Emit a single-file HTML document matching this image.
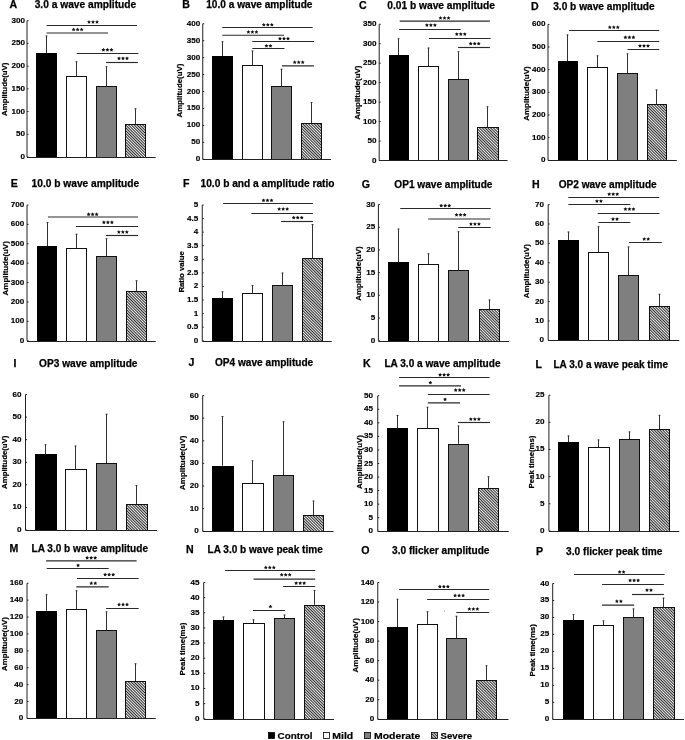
<!DOCTYPE html>
<html><head><meta charset="utf-8"><title>ERG figure</title><style>
html,body{margin:0;padding:0;background:#fff;}
body{width:685px;height:740px;overflow:hidden;}
svg{display:block;will-change:transform;}
text{font-family:"Liberation Sans",sans-serif;font-weight:bold;fill:#000;}
.t{font-size:10.2px;stroke:#000;stroke-width:0.25px;}
.lt{font-size:10.6px;stroke:#000;stroke-width:0.25px;}
.k{font-size:8.1px;fill:#000;stroke:#000;stroke-width:0.15px;}
.y{font-size:7.5px;stroke:#000;stroke-width:0.2px;}
.s{font-size:10px;fill:#222;}
.l{font-size:9.7px;stroke:#000;stroke-width:0.2px;}
</style></head>
<body>
<svg width="685" height="740" viewBox="0 0 685 740">
<defs><pattern id="h" patternUnits="userSpaceOnUse" width="2" height="2" patternTransform="rotate(-45)"><rect width="2" height="2" fill="#f2f2f2"/><rect width="0.95" height="2" fill="#1e1e1e"/></pattern><polygon id="st" points="0.00,-1.82 0.62,-0.63 1.97,-0.42 1.00,0.52 1.22,1.84 0.00,1.23 -1.22,1.84 -1.00,0.52 -1.97,-0.42 -0.62,-0.63" fill="#111"/></defs>
<rect width="685" height="740" fill="#fff"/>
<text x="13.3" y="7.9" class="lt" text-anchor="middle">A</text>
<text x="34.7" y="7.9" class="t" textLength="101.55" lengthAdjust="spacingAndGlyphs">3.0 a wave amplitude</text>
<line x1="45" y1="36" x2="48" y2="36" stroke="#aaa" stroke-width="1"/>
<line x1="46.5" y1="35.5" x2="46.5" y2="53.25" stroke="#333" stroke-width="1.0"/>
<rect x="36.5" y="53.5" width="20" height="104" fill="#000" stroke="#000" stroke-width="1.0"/>
<line x1="75" y1="61.75" x2="78" y2="61.75" stroke="#aaa" stroke-width="1"/>
<line x1="76.5" y1="61.25" x2="76.5" y2="76" stroke="#333" stroke-width="1.0"/>
<rect x="66.5" y="76.5" width="20" height="81" fill="#fff" stroke="#111" stroke-width="1.0"/>
<line x1="105" y1="66.75" x2="108" y2="66.75" stroke="#aaa" stroke-width="1"/>
<line x1="106.5" y1="66.25" x2="106.5" y2="86.5" stroke="#333" stroke-width="1.0"/>
<rect x="96.5" y="86.5" width="20" height="71" fill="#7f7f7f" stroke="#111" stroke-width="1.0"/>
<line x1="134" y1="108.75" x2="137" y2="108.75" stroke="#aaa" stroke-width="1"/>
<line x1="135.5" y1="108.25" x2="135.5" y2="124.2" stroke="#333" stroke-width="1.0"/>
<rect x="125.5" y="124.5" width="20" height="33" fill="url(#h)" stroke="#111" stroke-width="1.0"/>
<line x1="27" y1="20.7" x2="27" y2="157" stroke="#222" stroke-width="1.0"/>
<line x1="27" y1="157.5" x2="155.7" y2="157.5" stroke="#222" stroke-width="1.1"/>
<line x1="27" y1="157" x2="28.5" y2="157" stroke="#222" stroke-width="1"/>
<text x="24.9" y="159" class="k" text-anchor="end">0</text>
<line x1="27" y1="134.28" x2="28.5" y2="134.28" stroke="#222" stroke-width="1"/>
<text x="24.9" y="136.28" class="k" text-anchor="end">50</text>
<line x1="27" y1="111.57" x2="28.5" y2="111.57" stroke="#222" stroke-width="1"/>
<text x="24.9" y="113.57" class="k" text-anchor="end">100</text>
<line x1="27" y1="88.85" x2="28.5" y2="88.85" stroke="#222" stroke-width="1"/>
<text x="24.9" y="90.85" class="k" text-anchor="end">150</text>
<line x1="27" y1="66.13" x2="28.5" y2="66.13" stroke="#222" stroke-width="1"/>
<text x="24.9" y="68.13" class="k" text-anchor="end">200</text>
<line x1="27" y1="43.42" x2="28.5" y2="43.42" stroke="#222" stroke-width="1"/>
<text x="24.9" y="45.42" class="k" text-anchor="end">250</text>
<line x1="27" y1="20.7" x2="28.5" y2="20.7" stroke="#222" stroke-width="1"/>
<text x="24.9" y="22.7" class="k" text-anchor="end">300</text>
<line x1="46.5" y1="25.5" x2="137" y2="25.5" stroke="#2a2a2a" stroke-width="1.15"/>
<use href="#st" x="89" y="21.8"/>
<use href="#st" x="93" y="21.8"/>
<use href="#st" x="97" y="21.8"/>
<line x1="46.5" y1="33" x2="108" y2="33" stroke="#2a2a2a" stroke-width="1.15"/>
<use href="#st" x="73.6" y="29.35"/>
<use href="#st" x="77.6" y="29.35"/>
<use href="#st" x="81.6" y="29.35"/>
<line x1="76.75" y1="53.5" x2="138.4" y2="53.5" stroke="#2a2a2a" stroke-width="1.15"/>
<use href="#st" x="103.4" y="49.65"/>
<use href="#st" x="107.4" y="49.65"/>
<use href="#st" x="111.4" y="49.65"/>
<line x1="106.1" y1="62.5" x2="137.9" y2="62.5" stroke="#2a2a2a" stroke-width="1.15"/>
<use href="#st" x="119" y="58.25"/>
<use href="#st" x="123" y="58.25"/>
<use href="#st" x="127" y="58.25"/>
<text class="y" x="0" y="0" textLength="53.3" lengthAdjust="spacingAndGlyphs" transform="translate(7.1,115.9) rotate(-90)">Amplitude(uV)</text>
<text x="186" y="8" class="lt" text-anchor="middle">B</text>
<text x="206.2" y="8" class="t" textLength="106.3" lengthAdjust="spacingAndGlyphs">10.0 a wave amplitude</text>
<line x1="221" y1="41.75" x2="224" y2="41.75" stroke="#aaa" stroke-width="1"/>
<line x1="222.5" y1="41.25" x2="222.5" y2="56" stroke="#333" stroke-width="1.0"/>
<rect x="212.5" y="56.5" width="20" height="103" fill="#000" stroke="#000" stroke-width="1.0"/>
<line x1="251" y1="51" x2="254" y2="51" stroke="#aaa" stroke-width="1"/>
<line x1="252.5" y1="50.5" x2="252.5" y2="65.5" stroke="#333" stroke-width="1.0"/>
<rect x="242.5" y="65.5" width="20" height="94" fill="#fff" stroke="#111" stroke-width="1.0"/>
<line x1="280" y1="69.25" x2="283" y2="69.25" stroke="#aaa" stroke-width="1"/>
<line x1="281.5" y1="68.75" x2="281.5" y2="86" stroke="#333" stroke-width="1.0"/>
<rect x="271.5" y="86.5" width="20" height="73" fill="#7f7f7f" stroke="#111" stroke-width="1.0"/>
<line x1="310" y1="102.5" x2="313" y2="102.5" stroke="#aaa" stroke-width="1"/>
<line x1="311.5" y1="102" x2="311.5" y2="123" stroke="#333" stroke-width="1.0"/>
<rect x="301.5" y="123.5" width="20" height="36" fill="url(#h)" stroke="#111" stroke-width="1.0"/>
<line x1="202.75" y1="23.75" x2="202.75" y2="159.3" stroke="#222" stroke-width="1.0"/>
<line x1="202.75" y1="159.5" x2="331" y2="159.5" stroke="#222" stroke-width="1.1"/>
<line x1="202.75" y1="159.3" x2="204.25" y2="159.3" stroke="#222" stroke-width="1"/>
<text x="200.3" y="161.3" class="k" text-anchor="end">0</text>
<line x1="202.75" y1="142.36" x2="204.25" y2="142.36" stroke="#222" stroke-width="1"/>
<text x="200.3" y="144.36" class="k" text-anchor="end">50</text>
<line x1="202.75" y1="125.41" x2="204.25" y2="125.41" stroke="#222" stroke-width="1"/>
<text x="200.3" y="127.41" class="k" text-anchor="end">100</text>
<line x1="202.75" y1="108.47" x2="204.25" y2="108.47" stroke="#222" stroke-width="1"/>
<text x="200.3" y="110.47" class="k" text-anchor="end">150</text>
<line x1="202.75" y1="91.53" x2="204.25" y2="91.53" stroke="#222" stroke-width="1"/>
<text x="200.3" y="93.53" class="k" text-anchor="end">200</text>
<line x1="202.75" y1="74.58" x2="204.25" y2="74.58" stroke="#222" stroke-width="1"/>
<text x="200.3" y="76.58" class="k" text-anchor="end">250</text>
<line x1="202.75" y1="57.64" x2="204.25" y2="57.64" stroke="#222" stroke-width="1"/>
<text x="200.3" y="59.64" class="k" text-anchor="end">300</text>
<line x1="202.75" y1="40.69" x2="204.25" y2="40.69" stroke="#222" stroke-width="1"/>
<text x="200.3" y="42.69" class="k" text-anchor="end">350</text>
<line x1="202.75" y1="23.75" x2="204.25" y2="23.75" stroke="#222" stroke-width="1"/>
<text x="200.3" y="25.75" class="k" text-anchor="end">400</text>
<line x1="222.25" y1="27.5" x2="312.6" y2="27.5" stroke="#2a2a2a" stroke-width="1.15"/>
<use href="#st" x="263.8" y="24.55"/>
<use href="#st" x="267.8" y="24.55"/>
<use href="#st" x="271.8" y="24.55"/>
<line x1="222.25" y1="35.2" x2="284" y2="35.2" stroke="#2a2a2a" stroke-width="1.15"/>
<use href="#st" x="248.4" y="31.85"/>
<use href="#st" x="252.4" y="31.85"/>
<use href="#st" x="256.4" y="31.85"/>
<line x1="252.25" y1="41.5" x2="314" y2="41.5" stroke="#2a2a2a" stroke-width="1.15"/>
<use href="#st" x="280" y="38.45"/>
<use href="#st" x="284" y="38.45"/>
<use href="#st" x="288" y="38.45"/>
<line x1="252.25" y1="48.5" x2="284.5" y2="48.5" stroke="#2a2a2a" stroke-width="1.15"/>
<use href="#st" x="266.45" y="45.75"/>
<use href="#st" x="270.45" y="45.75"/>
<line x1="281.9" y1="65.9" x2="313.9" y2="65.9" stroke="#2a2a2a" stroke-width="1.15"/>
<use href="#st" x="294.7" y="62.1"/>
<use href="#st" x="298.7" y="62.1"/>
<use href="#st" x="302.7" y="62.1"/>
<text class="y" x="0" y="0" textLength="53.8" lengthAdjust="spacingAndGlyphs" transform="translate(182.4,117.4) rotate(-90)">Amplitude(uV)</text>
<text x="362.85" y="9.4" class="lt" text-anchor="middle">C</text>
<text x="387.3" y="9.4" class="t" textLength="107.7" lengthAdjust="spacingAndGlyphs">0.01 b wave amplitude</text>
<line x1="397" y1="38.75" x2="400" y2="38.75" stroke="#aaa" stroke-width="1"/>
<line x1="398.5" y1="38.25" x2="398.5" y2="55.25" stroke="#333" stroke-width="1.0"/>
<rect x="389.5" y="55.5" width="19" height="105" fill="#000" stroke="#000" stroke-width="1.0"/>
<line x1="427" y1="48" x2="430" y2="48" stroke="#aaa" stroke-width="1"/>
<line x1="428.5" y1="47.5" x2="428.5" y2="66.5" stroke="#333" stroke-width="1.0"/>
<rect x="418.5" y="66.5" width="20" height="94" fill="#fff" stroke="#111" stroke-width="1.0"/>
<line x1="457" y1="51.75" x2="460" y2="51.75" stroke="#aaa" stroke-width="1"/>
<line x1="458.5" y1="51.25" x2="458.5" y2="79" stroke="#333" stroke-width="1.0"/>
<rect x="448.5" y="79.5" width="20" height="81" fill="#7f7f7f" stroke="#111" stroke-width="1.0"/>
<line x1="486" y1="106.75" x2="489" y2="106.75" stroke="#aaa" stroke-width="1"/>
<line x1="487.5" y1="106.25" x2="487.5" y2="127.5" stroke="#333" stroke-width="1.0"/>
<rect x="477.5" y="127.5" width="21" height="33" fill="url(#h)" stroke="#111" stroke-width="1.0"/>
<line x1="379.2" y1="24.25" x2="379.2" y2="160.5" stroke="#222" stroke-width="1.0"/>
<line x1="379.2" y1="160.5" x2="507.5" y2="160.5" stroke="#222" stroke-width="1.1"/>
<line x1="379.2" y1="160.5" x2="380.7" y2="160.5" stroke="#222" stroke-width="1"/>
<text x="376.4" y="162.5" class="k" text-anchor="end">0</text>
<line x1="379.2" y1="141.04" x2="380.7" y2="141.04" stroke="#222" stroke-width="1"/>
<text x="376.4" y="143.04" class="k" text-anchor="end">50</text>
<line x1="379.2" y1="121.57" x2="380.7" y2="121.57" stroke="#222" stroke-width="1"/>
<text x="376.4" y="123.57" class="k" text-anchor="end">100</text>
<line x1="379.2" y1="102.11" x2="380.7" y2="102.11" stroke="#222" stroke-width="1"/>
<text x="376.4" y="104.11" class="k" text-anchor="end">150</text>
<line x1="379.2" y1="82.64" x2="380.7" y2="82.64" stroke="#222" stroke-width="1"/>
<text x="376.4" y="84.64" class="k" text-anchor="end">200</text>
<line x1="379.2" y1="63.18" x2="380.7" y2="63.18" stroke="#222" stroke-width="1"/>
<text x="376.4" y="65.18" class="k" text-anchor="end">250</text>
<line x1="379.2" y1="43.71" x2="380.7" y2="43.71" stroke="#222" stroke-width="1"/>
<text x="376.4" y="45.71" class="k" text-anchor="end">300</text>
<line x1="379.2" y1="24.25" x2="380.7" y2="24.25" stroke="#222" stroke-width="1"/>
<text x="376.4" y="26.25" class="k" text-anchor="end">350</text>
<line x1="399.7" y1="21.05" x2="489.9" y2="21.05" stroke="#2a2a2a" stroke-width="1.15"/>
<use href="#st" x="440.5" y="17.85"/>
<use href="#st" x="444.5" y="17.85"/>
<use href="#st" x="448.5" y="17.85"/>
<line x1="399.1" y1="29.5" x2="460.7" y2="29.5" stroke="#2a2a2a" stroke-width="1.15"/>
<use href="#st" x="426.9" y="25"/>
<use href="#st" x="430.9" y="25"/>
<use href="#st" x="434.9" y="25"/>
<line x1="428.9" y1="38.5" x2="490.6" y2="38.5" stroke="#2a2a2a" stroke-width="1.15"/>
<use href="#st" x="456.8" y="34"/>
<use href="#st" x="460.8" y="34"/>
<use href="#st" x="464.8" y="34"/>
<line x1="458.1" y1="47.5" x2="489.9" y2="47.5" stroke="#2a2a2a" stroke-width="1.15"/>
<use href="#st" x="470.7" y="43.5"/>
<use href="#st" x="474.7" y="43.5"/>
<use href="#st" x="478.7" y="43.5"/>
<text class="y" x="0" y="0" textLength="54.1" lengthAdjust="spacingAndGlyphs" transform="translate(359.8,119.7) rotate(-90)">Amplitude(uV)</text>
<text x="534.95" y="9.6" class="lt" text-anchor="middle">D</text>
<text x="553.2" y="9.6" class="t" textLength="101.5" lengthAdjust="spacingAndGlyphs">3.0 b wave amplitude</text>
<line x1="566" y1="34.9" x2="569" y2="34.9" stroke="#aaa" stroke-width="1"/>
<line x1="567.5" y1="34.4" x2="567.5" y2="61" stroke="#333" stroke-width="1.0"/>
<rect x="558.5" y="61.5" width="19" height="99" fill="#000" stroke="#000" stroke-width="1.0"/>
<line x1="596" y1="55.8" x2="599" y2="55.8" stroke="#aaa" stroke-width="1"/>
<line x1="597.5" y1="55.3" x2="597.5" y2="67.3" stroke="#333" stroke-width="1.0"/>
<rect x="587.5" y="67.5" width="20" height="93" fill="#fff" stroke="#111" stroke-width="1.0"/>
<line x1="626" y1="53.8" x2="629" y2="53.8" stroke="#aaa" stroke-width="1"/>
<line x1="627.5" y1="53.3" x2="627.5" y2="73.4" stroke="#333" stroke-width="1.0"/>
<rect x="617.5" y="73.5" width="20" height="87" fill="#7f7f7f" stroke="#111" stroke-width="1.0"/>
<line x1="655" y1="89.9" x2="658" y2="89.9" stroke="#aaa" stroke-width="1"/>
<line x1="656.5" y1="89.4" x2="656.5" y2="104.3" stroke="#333" stroke-width="1.0"/>
<rect x="647.5" y="104.5" width="19" height="56" fill="url(#h)" stroke="#111" stroke-width="1.0"/>
<line x1="548" y1="24.4" x2="548" y2="160.3" stroke="#222" stroke-width="1.0"/>
<line x1="548" y1="160.5" x2="676.8" y2="160.5" stroke="#222" stroke-width="1.1"/>
<line x1="548" y1="160.3" x2="549.5" y2="160.3" stroke="#222" stroke-width="1"/>
<text x="545.6" y="162.3" class="k" text-anchor="end">0</text>
<line x1="548" y1="137.65" x2="549.5" y2="137.65" stroke="#222" stroke-width="1"/>
<text x="545.6" y="139.65" class="k" text-anchor="end">100</text>
<line x1="548" y1="115" x2="549.5" y2="115" stroke="#222" stroke-width="1"/>
<text x="545.6" y="117" class="k" text-anchor="end">200</text>
<line x1="548" y1="92.35" x2="549.5" y2="92.35" stroke="#222" stroke-width="1"/>
<text x="545.6" y="94.35" class="k" text-anchor="end">300</text>
<line x1="548" y1="69.7" x2="549.5" y2="69.7" stroke="#222" stroke-width="1"/>
<text x="545.6" y="71.7" class="k" text-anchor="end">400</text>
<line x1="548" y1="47.05" x2="549.5" y2="47.05" stroke="#222" stroke-width="1"/>
<text x="545.6" y="49.05" class="k" text-anchor="end">500</text>
<line x1="548" y1="24.4" x2="549.5" y2="24.4" stroke="#222" stroke-width="1"/>
<text x="545.6" y="26.4" class="k" text-anchor="end">600</text>
<line x1="569.1" y1="30.5" x2="659.2" y2="30.5" stroke="#2a2a2a" stroke-width="1.15"/>
<use href="#st" x="609.8" y="27.1"/>
<use href="#st" x="613.8" y="27.1"/>
<use href="#st" x="617.8" y="27.1"/>
<line x1="597.4" y1="41.5" x2="659.2" y2="41.5" stroke="#2a2a2a" stroke-width="1.15"/>
<use href="#st" x="625.4" y="37.15"/>
<use href="#st" x="629.4" y="37.15"/>
<use href="#st" x="633.4" y="37.15"/>
<line x1="627.5" y1="49.5" x2="659.2" y2="49.5" stroke="#2a2a2a" stroke-width="1.15"/>
<use href="#st" x="640" y="45.75"/>
<use href="#st" x="644" y="45.75"/>
<use href="#st" x="648" y="45.75"/>
<text class="y" x="0" y="0" textLength="54.3" lengthAdjust="spacingAndGlyphs" transform="translate(529.2,120.7) rotate(-90)">Amplitude(uV)</text>
<text x="14.4" y="186.5" class="lt" text-anchor="middle">E</text>
<text x="31.6" y="186.5" class="t" textLength="107.65" lengthAdjust="spacingAndGlyphs">10.0 b wave amplitude</text>
<line x1="46" y1="222.5" x2="49" y2="222.5" stroke="#aaa" stroke-width="1"/>
<line x1="47.5" y1="222" x2="47.5" y2="246.25" stroke="#333" stroke-width="1.0"/>
<rect x="37.5" y="246.5" width="19" height="95" fill="#000" stroke="#000" stroke-width="1.0"/>
<line x1="75" y1="234.25" x2="78" y2="234.25" stroke="#aaa" stroke-width="1"/>
<line x1="76.5" y1="233.75" x2="76.5" y2="248.25" stroke="#333" stroke-width="1.0"/>
<rect x="66.5" y="248.5" width="20" height="93" fill="#fff" stroke="#111" stroke-width="1.0"/>
<line x1="105" y1="238.75" x2="108" y2="238.75" stroke="#aaa" stroke-width="1"/>
<line x1="106.5" y1="238.25" x2="106.5" y2="256.25" stroke="#333" stroke-width="1.0"/>
<rect x="96.5" y="256.5" width="20" height="85" fill="#7f7f7f" stroke="#111" stroke-width="1.0"/>
<line x1="135" y1="280.75" x2="138" y2="280.75" stroke="#aaa" stroke-width="1"/>
<line x1="136.5" y1="280.25" x2="136.5" y2="291" stroke="#333" stroke-width="1.0"/>
<rect x="126.5" y="291.5" width="20" height="50" fill="url(#h)" stroke="#111" stroke-width="1.0"/>
<line x1="27" y1="205" x2="27" y2="340.75" stroke="#222" stroke-width="1.0"/>
<line x1="27" y1="341.5" x2="155.75" y2="341.5" stroke="#222" stroke-width="1.1"/>
<line x1="27" y1="340.75" x2="28.5" y2="340.75" stroke="#222" stroke-width="1"/>
<text x="24.2" y="342.75" class="k" text-anchor="end">0</text>
<line x1="27" y1="321.36" x2="28.5" y2="321.36" stroke="#222" stroke-width="1"/>
<text x="24.2" y="323.36" class="k" text-anchor="end">100</text>
<line x1="27" y1="301.96" x2="28.5" y2="301.96" stroke="#222" stroke-width="1"/>
<text x="24.2" y="303.96" class="k" text-anchor="end">200</text>
<line x1="27" y1="282.57" x2="28.5" y2="282.57" stroke="#222" stroke-width="1"/>
<text x="24.2" y="284.57" class="k" text-anchor="end">300</text>
<line x1="27" y1="263.18" x2="28.5" y2="263.18" stroke="#222" stroke-width="1"/>
<text x="24.2" y="265.18" class="k" text-anchor="end">400</text>
<line x1="27" y1="243.79" x2="28.5" y2="243.79" stroke="#222" stroke-width="1"/>
<text x="24.2" y="245.79" class="k" text-anchor="end">500</text>
<line x1="27" y1="224.39" x2="28.5" y2="224.39" stroke="#222" stroke-width="1"/>
<text x="24.2" y="226.39" class="k" text-anchor="end">600</text>
<line x1="27" y1="205" x2="28.5" y2="205" stroke="#222" stroke-width="1"/>
<text x="24.2" y="207" class="k" text-anchor="end">700</text>
<line x1="47.9" y1="217" x2="138" y2="217" stroke="#2a2a2a" stroke-width="1.15"/>
<use href="#st" x="88.6" y="214.15"/>
<use href="#st" x="92.6" y="214.15"/>
<use href="#st" x="96.6" y="214.15"/>
<line x1="76" y1="226.5" x2="138" y2="226.5" stroke="#2a2a2a" stroke-width="1.15"/>
<use href="#st" x="103.9" y="222.15"/>
<use href="#st" x="107.9" y="222.15"/>
<use href="#st" x="111.9" y="222.15"/>
<line x1="106" y1="235.5" x2="138" y2="235.5" stroke="#2a2a2a" stroke-width="1.15"/>
<use href="#st" x="118.85" y="231.8"/>
<use href="#st" x="122.85" y="231.8"/>
<use href="#st" x="126.85" y="231.8"/>
<text class="y" x="0" y="0" textLength="54.2" lengthAdjust="spacingAndGlyphs" transform="translate(7.6,295.4) rotate(-90)">Amplitude(uV)</text>
<text x="186.35" y="186.8" class="lt" text-anchor="middle">F</text>
<text x="200.5" y="186.8" class="t" textLength="134" lengthAdjust="spacingAndGlyphs">10.0 b and a amplitude ratio</text>
<line x1="221" y1="291.75" x2="224" y2="291.75" stroke="#aaa" stroke-width="1"/>
<line x1="222.5" y1="291.25" x2="222.5" y2="298.25" stroke="#333" stroke-width="1.0"/>
<rect x="212.5" y="298.5" width="20" height="43" fill="#000" stroke="#000" stroke-width="1.0"/>
<line x1="251" y1="285.5" x2="254" y2="285.5" stroke="#aaa" stroke-width="1"/>
<line x1="252.5" y1="285" x2="252.5" y2="293.25" stroke="#333" stroke-width="1.0"/>
<rect x="242.5" y="293.5" width="20" height="48" fill="#fff" stroke="#111" stroke-width="1.0"/>
<line x1="281" y1="273" x2="284" y2="273" stroke="#aaa" stroke-width="1"/>
<line x1="282.5" y1="272.5" x2="282.5" y2="285.5" stroke="#333" stroke-width="1.0"/>
<rect x="272.5" y="285.5" width="20" height="56" fill="#7f7f7f" stroke="#111" stroke-width="1.0"/>
<line x1="311" y1="224.5" x2="314" y2="224.5" stroke="#aaa" stroke-width="1"/>
<line x1="312.5" y1="224" x2="312.5" y2="258.25" stroke="#333" stroke-width="1.0"/>
<rect x="302.5" y="258.5" width="20" height="83" fill="url(#h)" stroke="#111" stroke-width="1.0"/>
<line x1="202.25" y1="205" x2="202.25" y2="340.75" stroke="#222" stroke-width="1.0"/>
<line x1="202.25" y1="341.5" x2="331.75" y2="341.5" stroke="#222" stroke-width="1.1"/>
<line x1="202.25" y1="340.75" x2="203.75" y2="340.75" stroke="#222" stroke-width="1"/>
<text x="198.2" y="342.75" class="k" text-anchor="end">0</text>
<line x1="202.25" y1="327.18" x2="203.75" y2="327.18" stroke="#222" stroke-width="1"/>
<text x="198.2" y="329.18" class="k" text-anchor="end">0.5</text>
<line x1="202.25" y1="313.6" x2="203.75" y2="313.6" stroke="#222" stroke-width="1"/>
<text x="198.2" y="315.6" class="k" text-anchor="end">1</text>
<line x1="202.25" y1="300.02" x2="203.75" y2="300.02" stroke="#222" stroke-width="1"/>
<text x="198.2" y="302.02" class="k" text-anchor="end">1.5</text>
<line x1="202.25" y1="286.45" x2="203.75" y2="286.45" stroke="#222" stroke-width="1"/>
<text x="198.2" y="288.45" class="k" text-anchor="end">2</text>
<line x1="202.25" y1="272.88" x2="203.75" y2="272.88" stroke="#222" stroke-width="1"/>
<text x="198.2" y="274.88" class="k" text-anchor="end">2.5</text>
<line x1="202.25" y1="259.3" x2="203.75" y2="259.3" stroke="#222" stroke-width="1"/>
<text x="198.2" y="261.3" class="k" text-anchor="end">3</text>
<line x1="202.25" y1="245.72" x2="203.75" y2="245.72" stroke="#222" stroke-width="1"/>
<text x="198.2" y="247.72" class="k" text-anchor="end">3.5</text>
<line x1="202.25" y1="232.15" x2="203.75" y2="232.15" stroke="#222" stroke-width="1"/>
<text x="198.2" y="234.15" class="k" text-anchor="end">4</text>
<line x1="202.25" y1="218.57" x2="203.75" y2="218.57" stroke="#222" stroke-width="1"/>
<text x="198.2" y="220.57" class="k" text-anchor="end">4.5</text>
<line x1="202.25" y1="205" x2="203.75" y2="205" stroke="#222" stroke-width="1"/>
<text x="198.2" y="207" class="k" text-anchor="end">5</text>
<line x1="223.1" y1="203.5" x2="312.9" y2="203.5" stroke="#2a2a2a" stroke-width="1.15"/>
<use href="#st" x="263.5" y="200.25"/>
<use href="#st" x="267.5" y="200.25"/>
<use href="#st" x="271.5" y="200.25"/>
<line x1="251.3" y1="213.5" x2="312.9" y2="213.5" stroke="#2a2a2a" stroke-width="1.15"/>
<use href="#st" x="279.15" y="208.85"/>
<use href="#st" x="283.15" y="208.85"/>
<use href="#st" x="287.15" y="208.85"/>
<line x1="281.1" y1="221.5" x2="312.9" y2="221.5" stroke="#2a2a2a" stroke-width="1.15"/>
<use href="#st" x="293.7" y="217.45"/>
<use href="#st" x="297.7" y="217.45"/>
<use href="#st" x="301.7" y="217.45"/>
<text class="y" x="0" y="0" textLength="41.4" lengthAdjust="spacingAndGlyphs" transform="translate(183.8,292.6) rotate(-90)">Ratio value</text>
<text x="365.85" y="187.6" class="lt" text-anchor="middle">G</text>
<text x="394.3" y="187.6" class="t" textLength="98.2" lengthAdjust="spacingAndGlyphs">OP1 wave amplitude</text>
<line x1="397" y1="229" x2="400" y2="229" stroke="#aaa" stroke-width="1"/>
<line x1="398.5" y1="228.5" x2="398.5" y2="262.25" stroke="#333" stroke-width="1.0"/>
<rect x="388.5" y="262.5" width="20" height="79" fill="#000" stroke="#000" stroke-width="1.0"/>
<line x1="427" y1="253.75" x2="430" y2="253.75" stroke="#aaa" stroke-width="1"/>
<line x1="428.5" y1="253.25" x2="428.5" y2="264.5" stroke="#333" stroke-width="1.0"/>
<rect x="418.5" y="264.5" width="20" height="77" fill="#fff" stroke="#111" stroke-width="1.0"/>
<line x1="457" y1="231.75" x2="460" y2="231.75" stroke="#aaa" stroke-width="1"/>
<line x1="458.5" y1="231.25" x2="458.5" y2="270.25" stroke="#333" stroke-width="1.0"/>
<rect x="448.5" y="270.5" width="20" height="71" fill="#7f7f7f" stroke="#111" stroke-width="1.0"/>
<line x1="488" y1="300" x2="491" y2="300" stroke="#aaa" stroke-width="1"/>
<line x1="489.5" y1="299.5" x2="489.5" y2="309.5" stroke="#333" stroke-width="1.0"/>
<rect x="479.5" y="309.5" width="20" height="32" fill="url(#h)" stroke="#111" stroke-width="1.0"/>
<line x1="378.4" y1="204.5" x2="378.4" y2="340.75" stroke="#222" stroke-width="1.0"/>
<line x1="378.4" y1="341.5" x2="509" y2="341.5" stroke="#222" stroke-width="1.1"/>
<line x1="378.4" y1="340.75" x2="379.9" y2="340.75" stroke="#222" stroke-width="1"/>
<text x="375.2" y="342.75" class="k" text-anchor="end">0</text>
<line x1="378.4" y1="318.04" x2="379.9" y2="318.04" stroke="#222" stroke-width="1"/>
<text x="375.2" y="320.04" class="k" text-anchor="end">5</text>
<line x1="378.4" y1="295.33" x2="379.9" y2="295.33" stroke="#222" stroke-width="1"/>
<text x="375.2" y="297.33" class="k" text-anchor="end">10</text>
<line x1="378.4" y1="272.62" x2="379.9" y2="272.62" stroke="#222" stroke-width="1"/>
<text x="375.2" y="274.62" class="k" text-anchor="end">15</text>
<line x1="378.4" y1="249.92" x2="379.9" y2="249.92" stroke="#222" stroke-width="1"/>
<text x="375.2" y="251.92" class="k" text-anchor="end">20</text>
<line x1="378.4" y1="227.21" x2="379.9" y2="227.21" stroke="#222" stroke-width="1"/>
<text x="375.2" y="229.21" class="k" text-anchor="end">25</text>
<line x1="378.4" y1="204.5" x2="379.9" y2="204.5" stroke="#222" stroke-width="1"/>
<text x="375.2" y="206.5" class="k" text-anchor="end">30</text>
<line x1="400.25" y1="208.5" x2="490.75" y2="208.5" stroke="#2a2a2a" stroke-width="1.15"/>
<use href="#st" x="441.2" y="205.45"/>
<use href="#st" x="445.2" y="205.45"/>
<use href="#st" x="449.2" y="205.45"/>
<line x1="428.25" y1="219" x2="490.2" y2="219" stroke="#2a2a2a" stroke-width="1.15"/>
<use href="#st" x="456.55" y="214.7"/>
<use href="#st" x="460.55" y="214.7"/>
<use href="#st" x="464.55" y="214.7"/>
<line x1="458.25" y1="227.5" x2="490.75" y2="227.5" stroke="#2a2a2a" stroke-width="1.15"/>
<use href="#st" x="470.95" y="223.85"/>
<use href="#st" x="474.95" y="223.85"/>
<use href="#st" x="478.95" y="223.85"/>
<text class="y" x="0" y="0" textLength="54.3" lengthAdjust="spacingAndGlyphs" transform="translate(361.2,300.7) rotate(-90)">Amplitude(uV)</text>
<text x="535.95" y="187.6" class="lt" text-anchor="middle">H</text>
<text x="558.7" y="187.6" class="t" textLength="98" lengthAdjust="spacingAndGlyphs">OP2 wave amplitude</text>
<line x1="567" y1="232" x2="570" y2="232" stroke="#aaa" stroke-width="1"/>
<line x1="568.5" y1="231.5" x2="568.5" y2="240.1" stroke="#333" stroke-width="1.0"/>
<rect x="558.5" y="240.5" width="20" height="100" fill="#000" stroke="#000" stroke-width="1.0"/>
<line x1="597" y1="226.8" x2="600" y2="226.8" stroke="#aaa" stroke-width="1"/>
<line x1="598.5" y1="226.3" x2="598.5" y2="252.6" stroke="#333" stroke-width="1.0"/>
<rect x="588.5" y="252.5" width="20" height="88" fill="#fff" stroke="#111" stroke-width="1.0"/>
<line x1="627" y1="246.9" x2="630" y2="246.9" stroke="#aaa" stroke-width="1"/>
<line x1="628.5" y1="246.4" x2="628.5" y2="275.3" stroke="#333" stroke-width="1.0"/>
<rect x="618.5" y="275.5" width="20" height="65" fill="#7f7f7f" stroke="#111" stroke-width="1.0"/>
<line x1="658" y1="294.3" x2="661" y2="294.3" stroke="#aaa" stroke-width="1"/>
<line x1="659.5" y1="293.8" x2="659.5" y2="306.4" stroke="#333" stroke-width="1.0"/>
<rect x="649.5" y="306.5" width="20" height="34" fill="url(#h)" stroke="#111" stroke-width="1.0"/>
<line x1="548.2" y1="204.6" x2="548.2" y2="340.4" stroke="#222" stroke-width="1.0"/>
<line x1="548.2" y1="340.5" x2="679.3" y2="340.5" stroke="#222" stroke-width="1.1"/>
<line x1="548.2" y1="340.4" x2="549.7" y2="340.4" stroke="#222" stroke-width="1"/>
<text x="543.9" y="342.4" class="k" text-anchor="end">0</text>
<line x1="548.2" y1="321" x2="549.7" y2="321" stroke="#222" stroke-width="1"/>
<text x="543.9" y="323" class="k" text-anchor="end">10</text>
<line x1="548.2" y1="301.6" x2="549.7" y2="301.6" stroke="#222" stroke-width="1"/>
<text x="543.9" y="303.6" class="k" text-anchor="end">20</text>
<line x1="548.2" y1="282.2" x2="549.7" y2="282.2" stroke="#222" stroke-width="1"/>
<text x="543.9" y="284.2" class="k" text-anchor="end">30</text>
<line x1="548.2" y1="262.8" x2="549.7" y2="262.8" stroke="#222" stroke-width="1"/>
<text x="543.9" y="264.8" class="k" text-anchor="end">40</text>
<line x1="548.2" y1="243.4" x2="549.7" y2="243.4" stroke="#222" stroke-width="1"/>
<text x="543.9" y="245.4" class="k" text-anchor="end">50</text>
<line x1="548.2" y1="224" x2="549.7" y2="224" stroke="#222" stroke-width="1"/>
<text x="543.9" y="226" class="k" text-anchor="end">60</text>
<line x1="548.2" y1="204.6" x2="549.7" y2="204.6" stroke="#222" stroke-width="1"/>
<text x="543.9" y="206.6" class="k" text-anchor="end">70</text>
<line x1="568.3" y1="197.5" x2="659.2" y2="197.5" stroke="#2a2a2a" stroke-width="1.15"/>
<use href="#st" x="609.2" y="194"/>
<use href="#st" x="613.2" y="194"/>
<use href="#st" x="617.2" y="194"/>
<line x1="568.3" y1="204.5" x2="630.3" y2="204.5" stroke="#2a2a2a" stroke-width="1.15"/>
<use href="#st" x="596.95" y="201"/>
<use href="#st" x="600.95" y="201"/>
<line x1="597.7" y1="213.5" x2="659.5" y2="213.5" stroke="#2a2a2a" stroke-width="1.15"/>
<use href="#st" x="625.45" y="209"/>
<use href="#st" x="629.45" y="209"/>
<use href="#st" x="633.45" y="209"/>
<line x1="598.4" y1="222.5" x2="630.3" y2="222.5" stroke="#2a2a2a" stroke-width="1.15"/>
<use href="#st" x="613" y="218.9"/>
<use href="#st" x="617" y="218.9"/>
<line x1="629.1" y1="242.5" x2="661.8" y2="242.5" stroke="#2a2a2a" stroke-width="1.15"/>
<use href="#st" x="644.2" y="238.85"/>
<use href="#st" x="648.2" y="238.85"/>
<text class="y" x="0" y="0" textLength="54.2" lengthAdjust="spacingAndGlyphs" transform="translate(529.2,298.3) rotate(-90)">Amplitude(uV)</text>
<text x="15" y="366.8" class="lt" text-anchor="middle">I</text>
<text x="39.1" y="366.8" class="t" textLength="98.4" lengthAdjust="spacingAndGlyphs">OP3 wave amplitude</text>
<line x1="44" y1="444.75" x2="47" y2="444.75" stroke="#aaa" stroke-width="1"/>
<line x1="45.5" y1="444.25" x2="45.5" y2="454.25" stroke="#333" stroke-width="1.0"/>
<rect x="35.5" y="454.5" width="21" height="76" fill="#000" stroke="#000" stroke-width="1.0"/>
<line x1="74" y1="446" x2="77" y2="446" stroke="#aaa" stroke-width="1"/>
<line x1="75.5" y1="445.5" x2="75.5" y2="469.25" stroke="#333" stroke-width="1.0"/>
<rect x="65.5" y="469.5" width="21" height="61" fill="#fff" stroke="#111" stroke-width="1.0"/>
<line x1="105" y1="414.25" x2="108" y2="414.25" stroke="#aaa" stroke-width="1"/>
<line x1="106.5" y1="413.75" x2="106.5" y2="463.5" stroke="#333" stroke-width="1.0"/>
<rect x="96.5" y="463.5" width="20" height="67" fill="#7f7f7f" stroke="#111" stroke-width="1.0"/>
<line x1="135" y1="485.5" x2="138" y2="485.5" stroke="#aaa" stroke-width="1"/>
<line x1="136.5" y1="485" x2="136.5" y2="504.5" stroke="#333" stroke-width="1.0"/>
<rect x="126.5" y="504.5" width="21" height="26" fill="url(#h)" stroke="#111" stroke-width="1.0"/>
<line x1="25.5" y1="394.5" x2="25.5" y2="530" stroke="#222" stroke-width="1.0"/>
<line x1="25.5" y1="530.5" x2="157" y2="530.5" stroke="#222" stroke-width="1.1"/>
<line x1="25.5" y1="530" x2="27" y2="530" stroke="#222" stroke-width="1"/>
<text x="21.5" y="532" class="k" text-anchor="end">0</text>
<line x1="25.5" y1="507.42" x2="27" y2="507.42" stroke="#222" stroke-width="1"/>
<text x="21.5" y="509.42" class="k" text-anchor="end">10</text>
<line x1="25.5" y1="484.83" x2="27" y2="484.83" stroke="#222" stroke-width="1"/>
<text x="21.5" y="486.83" class="k" text-anchor="end">20</text>
<line x1="25.5" y1="462.25" x2="27" y2="462.25" stroke="#222" stroke-width="1"/>
<text x="21.5" y="464.25" class="k" text-anchor="end">30</text>
<line x1="25.5" y1="439.67" x2="27" y2="439.67" stroke="#222" stroke-width="1"/>
<text x="21.5" y="441.67" class="k" text-anchor="end">40</text>
<line x1="25.5" y1="417.08" x2="27" y2="417.08" stroke="#222" stroke-width="1"/>
<text x="21.5" y="419.08" class="k" text-anchor="end">50</text>
<line x1="25.5" y1="394.5" x2="27" y2="394.5" stroke="#222" stroke-width="1"/>
<text x="21.5" y="396.5" class="k" text-anchor="end">60</text>
<text class="y" x="0" y="0" textLength="53.3" lengthAdjust="spacingAndGlyphs" transform="translate(7.4,488.9) rotate(-90)">Amplitude(uV)</text>
<text x="191.4" y="366.4" class="lt" text-anchor="middle">J</text>
<text x="215" y="366.4" class="t" textLength="98.25" lengthAdjust="spacingAndGlyphs">OP4 wave amplitude</text>
<line x1="221" y1="416.5" x2="224" y2="416.5" stroke="#aaa" stroke-width="1"/>
<line x1="222.5" y1="416" x2="222.5" y2="465.75" stroke="#333" stroke-width="1.0"/>
<rect x="212.5" y="466.5" width="21" height="65" fill="#000" stroke="#000" stroke-width="1.0"/>
<line x1="251" y1="460.75" x2="254" y2="460.75" stroke="#aaa" stroke-width="1"/>
<line x1="252.5" y1="460.25" x2="252.5" y2="483.4" stroke="#333" stroke-width="1.0"/>
<rect x="242.5" y="483.5" width="21" height="48" fill="#fff" stroke="#111" stroke-width="1.0"/>
<line x1="282" y1="421.75" x2="285" y2="421.75" stroke="#aaa" stroke-width="1"/>
<line x1="283.5" y1="421.25" x2="283.5" y2="475.25" stroke="#333" stroke-width="1.0"/>
<rect x="273.5" y="475.5" width="20" height="56" fill="#7f7f7f" stroke="#111" stroke-width="1.0"/>
<line x1="312" y1="501" x2="315" y2="501" stroke="#aaa" stroke-width="1"/>
<line x1="313.5" y1="500.5" x2="313.5" y2="515.5" stroke="#333" stroke-width="1.0"/>
<rect x="303.5" y="515.5" width="20" height="16" fill="url(#h)" stroke="#111" stroke-width="1.0"/>
<line x1="202.7" y1="395.5" x2="202.7" y2="531.25" stroke="#222" stroke-width="1.0"/>
<line x1="202.7" y1="531.5" x2="333.5" y2="531.5" stroke="#222" stroke-width="1.1"/>
<line x1="202.7" y1="531.25" x2="204.2" y2="531.25" stroke="#222" stroke-width="1"/>
<text x="198.7" y="533.25" class="k" text-anchor="end">0</text>
<line x1="202.7" y1="508.62" x2="204.2" y2="508.62" stroke="#222" stroke-width="1"/>
<text x="198.7" y="510.62" class="k" text-anchor="end">10</text>
<line x1="202.7" y1="486" x2="204.2" y2="486" stroke="#222" stroke-width="1"/>
<text x="198.7" y="488" class="k" text-anchor="end">20</text>
<line x1="202.7" y1="463.38" x2="204.2" y2="463.38" stroke="#222" stroke-width="1"/>
<text x="198.7" y="465.38" class="k" text-anchor="end">30</text>
<line x1="202.7" y1="440.75" x2="204.2" y2="440.75" stroke="#222" stroke-width="1"/>
<text x="198.7" y="442.75" class="k" text-anchor="end">40</text>
<line x1="202.7" y1="418.12" x2="204.2" y2="418.12" stroke="#222" stroke-width="1"/>
<text x="198.7" y="420.12" class="k" text-anchor="end">50</text>
<line x1="202.7" y1="395.5" x2="204.2" y2="395.5" stroke="#222" stroke-width="1"/>
<text x="198.7" y="397.5" class="k" text-anchor="end">60</text>
<text class="y" x="0" y="0" textLength="54.3" lengthAdjust="spacingAndGlyphs" transform="translate(184.8,489.9) rotate(-90)">Amplitude(uV)</text>
<text x="366.8" y="366.6" class="lt" text-anchor="middle">K</text>
<text x="384.4" y="366.6" class="t" textLength="116.1" lengthAdjust="spacingAndGlyphs">LA 3.0 a wave amplitude</text>
<line x1="396" y1="415.5" x2="399" y2="415.5" stroke="#aaa" stroke-width="1"/>
<line x1="397.5" y1="415" x2="397.5" y2="428.25" stroke="#333" stroke-width="1.0"/>
<rect x="387.5" y="428.5" width="20" height="103" fill="#000" stroke="#000" stroke-width="1.0"/>
<line x1="426" y1="407.25" x2="429" y2="407.25" stroke="#aaa" stroke-width="1"/>
<line x1="427.5" y1="406.75" x2="427.5" y2="428.5" stroke="#333" stroke-width="1.0"/>
<rect x="417.5" y="428.5" width="21" height="103" fill="#fff" stroke="#111" stroke-width="1.0"/>
<line x1="457" y1="426" x2="460" y2="426" stroke="#aaa" stroke-width="1"/>
<line x1="458.5" y1="425.5" x2="458.5" y2="443.75" stroke="#333" stroke-width="1.0"/>
<rect x="448.5" y="444.5" width="20" height="87" fill="#7f7f7f" stroke="#111" stroke-width="1.0"/>
<line x1="487" y1="476.75" x2="490" y2="476.75" stroke="#aaa" stroke-width="1"/>
<line x1="488.5" y1="476.25" x2="488.5" y2="487.75" stroke="#333" stroke-width="1.0"/>
<rect x="478.5" y="488.5" width="20" height="43" fill="url(#h)" stroke="#111" stroke-width="1.0"/>
<line x1="377.75" y1="395.75" x2="377.75" y2="531.25" stroke="#222" stroke-width="1.0"/>
<line x1="377.75" y1="531.5" x2="508.75" y2="531.5" stroke="#222" stroke-width="1.1"/>
<line x1="377.75" y1="531.25" x2="379.25" y2="531.25" stroke="#222" stroke-width="1"/>
<text x="373.1" y="533.25" class="k" text-anchor="end">0</text>
<line x1="377.75" y1="517.7" x2="379.25" y2="517.7" stroke="#222" stroke-width="1"/>
<text x="373.1" y="519.7" class="k" text-anchor="end">5</text>
<line x1="377.75" y1="504.15" x2="379.25" y2="504.15" stroke="#222" stroke-width="1"/>
<text x="373.1" y="506.15" class="k" text-anchor="end">10</text>
<line x1="377.75" y1="490.6" x2="379.25" y2="490.6" stroke="#222" stroke-width="1"/>
<text x="373.1" y="492.6" class="k" text-anchor="end">15</text>
<line x1="377.75" y1="477.05" x2="379.25" y2="477.05" stroke="#222" stroke-width="1"/>
<text x="373.1" y="479.05" class="k" text-anchor="end">20</text>
<line x1="377.75" y1="463.5" x2="379.25" y2="463.5" stroke="#222" stroke-width="1"/>
<text x="373.1" y="465.5" class="k" text-anchor="end">25</text>
<line x1="377.75" y1="449.95" x2="379.25" y2="449.95" stroke="#222" stroke-width="1"/>
<text x="373.1" y="451.95" class="k" text-anchor="end">30</text>
<line x1="377.75" y1="436.4" x2="379.25" y2="436.4" stroke="#222" stroke-width="1"/>
<text x="373.1" y="438.4" class="k" text-anchor="end">35</text>
<line x1="377.75" y1="422.85" x2="379.25" y2="422.85" stroke="#222" stroke-width="1"/>
<text x="373.1" y="424.85" class="k" text-anchor="end">40</text>
<line x1="377.75" y1="409.3" x2="379.25" y2="409.3" stroke="#222" stroke-width="1"/>
<text x="373.1" y="411.3" class="k" text-anchor="end">45</text>
<line x1="377.75" y1="395.75" x2="379.25" y2="395.75" stroke="#222" stroke-width="1"/>
<text x="373.1" y="397.75" class="k" text-anchor="end">50</text>
<line x1="399.1" y1="377.5" x2="489.6" y2="377.5" stroke="#2a2a2a" stroke-width="1.15"/>
<use href="#st" x="440.1" y="374.65"/>
<use href="#st" x="444.1" y="374.65"/>
<use href="#st" x="448.1" y="374.65"/>
<line x1="399.1" y1="385.9" x2="461" y2="385.9" stroke="#2a2a2a" stroke-width="1.15"/>
<use href="#st" x="430.35" y="382.45"/>
<line x1="427.8" y1="394.5" x2="489.6" y2="394.5" stroke="#2a2a2a" stroke-width="1.15"/>
<use href="#st" x="455.7" y="389.9"/>
<use href="#st" x="459.7" y="389.9"/>
<use href="#st" x="463.7" y="389.9"/>
<line x1="427.8" y1="402.9" x2="460" y2="402.9" stroke="#2a2a2a" stroke-width="1.15"/>
<use href="#st" x="445.05" y="399.2"/>
<line x1="458.1" y1="422.5" x2="490" y2="422.5" stroke="#2a2a2a" stroke-width="1.15"/>
<use href="#st" x="470.85" y="418.95"/>
<use href="#st" x="474.85" y="418.95"/>
<use href="#st" x="478.85" y="418.95"/>
<text class="y" x="0" y="0" textLength="53.7" lengthAdjust="spacingAndGlyphs" transform="translate(362.1,488.9) rotate(-90)">Amplitude(uV)</text>
<text x="538.75" y="367.7" class="lt" text-anchor="middle">L</text>
<text x="553.4" y="367.7" class="t" textLength="114.6" lengthAdjust="spacingAndGlyphs">LA 3.0 a wave peak time</text>
<line x1="567" y1="435.9" x2="570" y2="435.9" stroke="#aaa" stroke-width="1"/>
<line x1="568.5" y1="435.4" x2="568.5" y2="442.2" stroke="#333" stroke-width="1.0"/>
<rect x="558.5" y="442.5" width="20" height="89" fill="#000" stroke="#000" stroke-width="1.0"/>
<line x1="597" y1="439.9" x2="600" y2="439.9" stroke="#aaa" stroke-width="1"/>
<line x1="598.5" y1="439.4" x2="598.5" y2="447.5" stroke="#333" stroke-width="1.0"/>
<rect x="588.5" y="447.5" width="21" height="84" fill="#fff" stroke="#111" stroke-width="1.0"/>
<line x1="628" y1="431.9" x2="631" y2="431.9" stroke="#aaa" stroke-width="1"/>
<line x1="629.5" y1="431.4" x2="629.5" y2="439.4" stroke="#333" stroke-width="1.0"/>
<rect x="619.5" y="439.5" width="20" height="92" fill="#7f7f7f" stroke="#111" stroke-width="1.0"/>
<line x1="658" y1="415.3" x2="661" y2="415.3" stroke="#aaa" stroke-width="1"/>
<line x1="659.5" y1="414.8" x2="659.5" y2="429.4" stroke="#333" stroke-width="1.0"/>
<rect x="649.5" y="429.5" width="20" height="102" fill="url(#h)" stroke="#111" stroke-width="1.0"/>
<line x1="548.9" y1="395.2" x2="548.9" y2="530.9" stroke="#222" stroke-width="1.0"/>
<line x1="548.9" y1="531.5" x2="679.3" y2="531.5" stroke="#222" stroke-width="1.1"/>
<line x1="548.9" y1="530.9" x2="550.4" y2="530.9" stroke="#222" stroke-width="1"/>
<text x="544.5" y="532.9" class="k" text-anchor="end">0</text>
<line x1="548.9" y1="503.76" x2="550.4" y2="503.76" stroke="#222" stroke-width="1"/>
<text x="544.5" y="505.76" class="k" text-anchor="end">5</text>
<line x1="548.9" y1="476.62" x2="550.4" y2="476.62" stroke="#222" stroke-width="1"/>
<text x="544.5" y="478.62" class="k" text-anchor="end">10</text>
<line x1="548.9" y1="449.48" x2="550.4" y2="449.48" stroke="#222" stroke-width="1"/>
<text x="544.5" y="451.48" class="k" text-anchor="end">15</text>
<line x1="548.9" y1="422.34" x2="550.4" y2="422.34" stroke="#222" stroke-width="1"/>
<text x="544.5" y="424.34" class="k" text-anchor="end">20</text>
<line x1="548.9" y1="395.2" x2="550.4" y2="395.2" stroke="#222" stroke-width="1"/>
<text x="544.5" y="397.2" class="k" text-anchor="end">25</text>
<text class="y" x="0" y="0" textLength="52.8" lengthAdjust="spacingAndGlyphs" transform="translate(533.5,488.4) rotate(-90)">Peak time(ms)</text>
<text x="13.85" y="552.2" class="lt" text-anchor="middle">M</text>
<text x="31.5" y="552.2" class="t" textLength="116.5" lengthAdjust="spacingAndGlyphs">LA 3.0 b wave amplitude</text>
<line x1="45" y1="594.75" x2="48" y2="594.75" stroke="#aaa" stroke-width="1"/>
<line x1="46.5" y1="594.25" x2="46.5" y2="610.75" stroke="#333" stroke-width="1.0"/>
<rect x="36.5" y="611.5" width="20" height="107" fill="#000" stroke="#000" stroke-width="1.0"/>
<line x1="75" y1="590.75" x2="78" y2="590.75" stroke="#aaa" stroke-width="1"/>
<line x1="76.5" y1="590.25" x2="76.5" y2="609.25" stroke="#333" stroke-width="1.0"/>
<rect x="66.5" y="609.5" width="20" height="109" fill="#fff" stroke="#111" stroke-width="1.0"/>
<line x1="105" y1="611.75" x2="108" y2="611.75" stroke="#aaa" stroke-width="1"/>
<line x1="106.5" y1="611.25" x2="106.5" y2="630.5" stroke="#333" stroke-width="1.0"/>
<rect x="96.5" y="630.5" width="20" height="88" fill="#7f7f7f" stroke="#111" stroke-width="1.0"/>
<line x1="134" y1="663.75" x2="137" y2="663.75" stroke="#aaa" stroke-width="1"/>
<line x1="135.5" y1="663.25" x2="135.5" y2="681" stroke="#333" stroke-width="1.0"/>
<rect x="125.5" y="681.5" width="20" height="37" fill="url(#h)" stroke="#111" stroke-width="1.0"/>
<line x1="27" y1="583.25" x2="27" y2="718.4" stroke="#222" stroke-width="1.0"/>
<line x1="27" y1="718.5" x2="155.75" y2="718.5" stroke="#222" stroke-width="1.1"/>
<line x1="27" y1="718.4" x2="28.5" y2="718.4" stroke="#222" stroke-width="1"/>
<text x="23.3" y="720.4" class="k" text-anchor="end">0</text>
<line x1="27" y1="701.51" x2="28.5" y2="701.51" stroke="#222" stroke-width="1"/>
<text x="23.3" y="703.51" class="k" text-anchor="end">20</text>
<line x1="27" y1="684.61" x2="28.5" y2="684.61" stroke="#222" stroke-width="1"/>
<text x="23.3" y="686.61" class="k" text-anchor="end">40</text>
<line x1="27" y1="667.72" x2="28.5" y2="667.72" stroke="#222" stroke-width="1"/>
<text x="23.3" y="669.72" class="k" text-anchor="end">60</text>
<line x1="27" y1="650.83" x2="28.5" y2="650.83" stroke="#222" stroke-width="1"/>
<text x="23.3" y="652.83" class="k" text-anchor="end">80</text>
<line x1="27" y1="633.93" x2="28.5" y2="633.93" stroke="#222" stroke-width="1"/>
<text x="23.3" y="635.93" class="k" text-anchor="end">100</text>
<line x1="27" y1="617.04" x2="28.5" y2="617.04" stroke="#222" stroke-width="1"/>
<text x="23.3" y="619.04" class="k" text-anchor="end">120</text>
<line x1="27" y1="600.14" x2="28.5" y2="600.14" stroke="#222" stroke-width="1"/>
<text x="23.3" y="602.14" class="k" text-anchor="end">140</text>
<line x1="27" y1="583.25" x2="28.5" y2="583.25" stroke="#222" stroke-width="1"/>
<text x="23.3" y="585.25" class="k" text-anchor="end">160</text>
<line x1="46.1" y1="560.8" x2="136.6" y2="560.8" stroke="#2a2a2a" stroke-width="1.15"/>
<use href="#st" x="87.15" y="557.65"/>
<use href="#st" x="91.15" y="557.65"/>
<use href="#st" x="95.15" y="557.65"/>
<line x1="46.7" y1="568.5" x2="108.7" y2="568.5" stroke="#2a2a2a" stroke-width="1.15"/>
<use href="#st" x="78.05" y="565.25"/>
<line x1="77" y1="578.5" x2="138.6" y2="578.5" stroke="#2a2a2a" stroke-width="1.15"/>
<use href="#st" x="105.15" y="574.5"/>
<use href="#st" x="109.15" y="574.5"/>
<use href="#st" x="113.15" y="574.5"/>
<line x1="76.3" y1="586.8" x2="108.7" y2="586.8" stroke="#2a2a2a" stroke-width="1.15"/>
<use href="#st" x="91.3" y="583.1"/>
<use href="#st" x="95.3" y="583.1"/>
<line x1="106.1" y1="608.5" x2="138.7" y2="608.5" stroke="#2a2a2a" stroke-width="1.15"/>
<use href="#st" x="119.05" y="604.3"/>
<use href="#st" x="123.05" y="604.3"/>
<use href="#st" x="127.05" y="604.3"/>
<text class="y" x="0" y="0" textLength="53.7" lengthAdjust="spacingAndGlyphs" transform="translate(6.8,670.9) rotate(-90)">Amplitude(uV)</text>
<text x="189.85" y="552.6" class="lt" text-anchor="middle">N</text>
<text x="207.5" y="552.6" class="t" textLength="115.25" lengthAdjust="spacingAndGlyphs">LA 3.0 b wave peak time</text>
<line x1="222" y1="617" x2="225" y2="617" stroke="#aaa" stroke-width="1"/>
<line x1="223.5" y1="616.5" x2="223.5" y2="620.5" stroke="#333" stroke-width="1.0"/>
<rect x="213.5" y="620.5" width="20" height="99" fill="#000" stroke="#000" stroke-width="1.0"/>
<line x1="252" y1="619.75" x2="255" y2="619.75" stroke="#aaa" stroke-width="1"/>
<line x1="253.5" y1="619.25" x2="253.5" y2="623.2" stroke="#333" stroke-width="1.0"/>
<rect x="243.5" y="623.5" width="21" height="96" fill="#fff" stroke="#111" stroke-width="1.0"/>
<line x1="283" y1="615" x2="286" y2="615" stroke="#aaa" stroke-width="1"/>
<line x1="284.5" y1="614.5" x2="284.5" y2="618.1" stroke="#333" stroke-width="1.0"/>
<rect x="274.5" y="618.5" width="20" height="101" fill="#7f7f7f" stroke="#111" stroke-width="1.0"/>
<line x1="313" y1="590.5" x2="316" y2="590.5" stroke="#aaa" stroke-width="1"/>
<line x1="314.5" y1="590" x2="314.5" y2="604.8" stroke="#333" stroke-width="1.0"/>
<rect x="304.5" y="605.5" width="20" height="114" fill="url(#h)" stroke="#111" stroke-width="1.0"/>
<line x1="203.7" y1="582.5" x2="203.7" y2="718.75" stroke="#222" stroke-width="1.0"/>
<line x1="203.7" y1="719.5" x2="334" y2="719.5" stroke="#222" stroke-width="1.1"/>
<line x1="203.7" y1="718.75" x2="205.2" y2="718.75" stroke="#222" stroke-width="1"/>
<text x="199.4" y="720.75" class="k" text-anchor="end">0</text>
<line x1="203.7" y1="703.61" x2="205.2" y2="703.61" stroke="#222" stroke-width="1"/>
<text x="199.4" y="705.61" class="k" text-anchor="end">5</text>
<line x1="203.7" y1="688.47" x2="205.2" y2="688.47" stroke="#222" stroke-width="1"/>
<text x="199.4" y="690.47" class="k" text-anchor="end">10</text>
<line x1="203.7" y1="673.33" x2="205.2" y2="673.33" stroke="#222" stroke-width="1"/>
<text x="199.4" y="675.33" class="k" text-anchor="end">15</text>
<line x1="203.7" y1="658.19" x2="205.2" y2="658.19" stroke="#222" stroke-width="1"/>
<text x="199.4" y="660.19" class="k" text-anchor="end">20</text>
<line x1="203.7" y1="643.06" x2="205.2" y2="643.06" stroke="#222" stroke-width="1"/>
<text x="199.4" y="645.06" class="k" text-anchor="end">25</text>
<line x1="203.7" y1="627.92" x2="205.2" y2="627.92" stroke="#222" stroke-width="1"/>
<text x="199.4" y="629.92" class="k" text-anchor="end">30</text>
<line x1="203.7" y1="612.78" x2="205.2" y2="612.78" stroke="#222" stroke-width="1"/>
<text x="199.4" y="614.78" class="k" text-anchor="end">35</text>
<line x1="203.7" y1="597.64" x2="205.2" y2="597.64" stroke="#222" stroke-width="1"/>
<text x="199.4" y="599.64" class="k" text-anchor="end">40</text>
<line x1="203.7" y1="582.5" x2="205.2" y2="582.5" stroke="#222" stroke-width="1"/>
<text x="199.4" y="584.5" class="k" text-anchor="end">45</text>
<line x1="225.1" y1="570.5" x2="315.2" y2="570.5" stroke="#2a2a2a" stroke-width="1.15"/>
<use href="#st" x="265.8" y="567.3"/>
<use href="#st" x="269.8" y="567.3"/>
<use href="#st" x="273.8" y="567.3"/>
<line x1="253.6" y1="579.1" x2="315.2" y2="579.1" stroke="#2a2a2a" stroke-width="1.15"/>
<use href="#st" x="281.7" y="574.6"/>
<use href="#st" x="285.7" y="574.6"/>
<use href="#st" x="289.7" y="574.6"/>
<line x1="283.1" y1="586.5" x2="315.2" y2="586.5" stroke="#2a2a2a" stroke-width="1.15"/>
<use href="#st" x="296.15" y="582.95"/>
<use href="#st" x="300.15" y="582.95"/>
<use href="#st" x="304.15" y="582.95"/>
<line x1="252.9" y1="610.5" x2="285" y2="610.5" stroke="#2a2a2a" stroke-width="1.15"/>
<use href="#st" x="270.45" y="606.3"/>
<text class="y" x="0" y="0" textLength="52.8" lengthAdjust="spacingAndGlyphs" transform="translate(185.2,675.4) rotate(-90)">Peak time(ms)</text>
<text x="365.4" y="554.1" class="lt" text-anchor="middle">O</text>
<text x="392" y="554.1" class="t" textLength="97.5" lengthAdjust="spacingAndGlyphs">3.0 flicker amplitude</text>
<line x1="396" y1="599.25" x2="399" y2="599.25" stroke="#aaa" stroke-width="1"/>
<line x1="397.5" y1="598.75" x2="397.5" y2="627.5" stroke="#333" stroke-width="1.0"/>
<rect x="387.5" y="627.5" width="20" height="92" fill="#000" stroke="#000" stroke-width="1.0"/>
<line x1="426" y1="611.75" x2="429" y2="611.75" stroke="#aaa" stroke-width="1"/>
<line x1="427.5" y1="611.25" x2="427.5" y2="624.25" stroke="#333" stroke-width="1.0"/>
<rect x="417.5" y="624.5" width="20" height="95" fill="#fff" stroke="#111" stroke-width="1.0"/>
<line x1="455" y1="616.25" x2="458" y2="616.25" stroke="#aaa" stroke-width="1"/>
<line x1="456.5" y1="615.75" x2="456.5" y2="638.6" stroke="#333" stroke-width="1.0"/>
<rect x="446.5" y="638.5" width="20" height="81" fill="#7f7f7f" stroke="#111" stroke-width="1.0"/>
<line x1="485" y1="665.75" x2="488" y2="665.75" stroke="#aaa" stroke-width="1"/>
<line x1="486.5" y1="665.25" x2="486.5" y2="680.25" stroke="#333" stroke-width="1.0"/>
<rect x="476.5" y="680.5" width="20" height="39" fill="url(#h)" stroke="#111" stroke-width="1.0"/>
<line x1="377.75" y1="582.5" x2="377.75" y2="719.25" stroke="#222" stroke-width="1.0"/>
<line x1="377.75" y1="719.5" x2="508.5" y2="719.5" stroke="#222" stroke-width="1.1"/>
<line x1="377.75" y1="719.25" x2="379.25" y2="719.25" stroke="#222" stroke-width="1"/>
<text x="374.2" y="721.25" class="k" text-anchor="end">0</text>
<line x1="377.75" y1="699.71" x2="379.25" y2="699.71" stroke="#222" stroke-width="1"/>
<text x="374.2" y="701.71" class="k" text-anchor="end">20</text>
<line x1="377.75" y1="680.18" x2="379.25" y2="680.18" stroke="#222" stroke-width="1"/>
<text x="374.2" y="682.18" class="k" text-anchor="end">40</text>
<line x1="377.75" y1="660.64" x2="379.25" y2="660.64" stroke="#222" stroke-width="1"/>
<text x="374.2" y="662.64" class="k" text-anchor="end">60</text>
<line x1="377.75" y1="641.11" x2="379.25" y2="641.11" stroke="#222" stroke-width="1"/>
<text x="374.2" y="643.11" class="k" text-anchor="end">80</text>
<line x1="377.75" y1="621.57" x2="379.25" y2="621.57" stroke="#222" stroke-width="1"/>
<text x="374.2" y="623.57" class="k" text-anchor="end">100</text>
<line x1="377.75" y1="602.04" x2="379.25" y2="602.04" stroke="#222" stroke-width="1"/>
<text x="374.2" y="604.04" class="k" text-anchor="end">120</text>
<line x1="377.75" y1="582.5" x2="379.25" y2="582.5" stroke="#222" stroke-width="1"/>
<text x="374.2" y="584.5" class="k" text-anchor="end">140</text>
<line x1="399.1" y1="589.5" x2="489.2" y2="589.5" stroke="#2a2a2a" stroke-width="1.15"/>
<use href="#st" x="439.9" y="586.5"/>
<use href="#st" x="443.9" y="586.5"/>
<use href="#st" x="447.9" y="586.5"/>
<line x1="427.1" y1="599.5" x2="489.2" y2="599.5" stroke="#2a2a2a" stroke-width="1.15"/>
<use href="#st" x="455.1" y="595.3"/>
<use href="#st" x="459.1" y="595.3"/>
<use href="#st" x="463.1" y="595.3"/>
<line x1="456.3" y1="612.5" x2="489.2" y2="612.5" stroke="#2a2a2a" stroke-width="1.15"/>
<use href="#st" x="469.35" y="608.8"/>
<use href="#st" x="473.35" y="608.8"/>
<use href="#st" x="477.35" y="608.8"/>
<text class="y" x="0" y="0" textLength="54.2" lengthAdjust="spacingAndGlyphs" transform="translate(357.8,672.4) rotate(-90)">Amplitude(uV)</text>
<text x="539.65" y="555.1" class="lt" text-anchor="middle">P</text>
<text x="566.1" y="555.1" class="t" textLength="96.4" lengthAdjust="spacingAndGlyphs">3.0 flicker peak time</text>
<line x1="572" y1="614.6" x2="575" y2="614.6" stroke="#aaa" stroke-width="1"/>
<line x1="573.5" y1="614.1" x2="573.5" y2="620.6" stroke="#333" stroke-width="1.0"/>
<rect x="563.5" y="620.5" width="20" height="99" fill="#000" stroke="#000" stroke-width="1.0"/>
<line x1="602" y1="620.9" x2="605" y2="620.9" stroke="#aaa" stroke-width="1"/>
<line x1="603.5" y1="620.4" x2="603.5" y2="625.2" stroke="#333" stroke-width="1.0"/>
<rect x="593.5" y="625.5" width="20" height="94" fill="#fff" stroke="#111" stroke-width="1.0"/>
<line x1="632" y1="608.9" x2="635" y2="608.9" stroke="#aaa" stroke-width="1"/>
<line x1="633.5" y1="608.4" x2="633.5" y2="617.2" stroke="#333" stroke-width="1.0"/>
<rect x="623.5" y="617.5" width="20" height="102" fill="#7f7f7f" stroke="#111" stroke-width="1.0"/>
<line x1="662" y1="598.1" x2="665" y2="598.1" stroke="#aaa" stroke-width="1"/>
<line x1="663.5" y1="597.6" x2="663.5" y2="607.1" stroke="#333" stroke-width="1.0"/>
<rect x="653.5" y="607.5" width="21" height="112" fill="url(#h)" stroke="#111" stroke-width="1.0"/>
<line x1="552.7" y1="583.5" x2="552.7" y2="719.3" stroke="#222" stroke-width="1.0"/>
<line x1="552.7" y1="719.5" x2="684" y2="719.5" stroke="#222" stroke-width="1.1"/>
<line x1="552.7" y1="719.3" x2="554.2" y2="719.3" stroke="#222" stroke-width="1"/>
<text x="549.2" y="721.3" class="k" text-anchor="end">0</text>
<line x1="552.7" y1="702.32" x2="554.2" y2="702.32" stroke="#222" stroke-width="1"/>
<text x="549.2" y="704.32" class="k" text-anchor="end">5</text>
<line x1="552.7" y1="685.35" x2="554.2" y2="685.35" stroke="#222" stroke-width="1"/>
<text x="549.2" y="687.35" class="k" text-anchor="end">10</text>
<line x1="552.7" y1="668.38" x2="554.2" y2="668.38" stroke="#222" stroke-width="1"/>
<text x="549.2" y="670.38" class="k" text-anchor="end">15</text>
<line x1="552.7" y1="651.4" x2="554.2" y2="651.4" stroke="#222" stroke-width="1"/>
<text x="549.2" y="653.4" class="k" text-anchor="end">20</text>
<line x1="552.7" y1="634.42" x2="554.2" y2="634.42" stroke="#222" stroke-width="1"/>
<text x="549.2" y="636.42" class="k" text-anchor="end">25</text>
<line x1="552.7" y1="617.45" x2="554.2" y2="617.45" stroke="#222" stroke-width="1"/>
<text x="549.2" y="619.45" class="k" text-anchor="end">30</text>
<line x1="552.7" y1="600.48" x2="554.2" y2="600.48" stroke="#222" stroke-width="1"/>
<text x="549.2" y="602.48" class="k" text-anchor="end">35</text>
<line x1="552.7" y1="583.5" x2="554.2" y2="583.5" stroke="#222" stroke-width="1"/>
<text x="549.2" y="585.5" class="k" text-anchor="end">40</text>
<line x1="574.1" y1="574.5" x2="664.6" y2="574.5" stroke="#2a2a2a" stroke-width="1.15"/>
<use href="#st" x="619.6" y="571.85"/>
<use href="#st" x="623.6" y="571.85"/>
<line x1="602.1" y1="584.5" x2="663.9" y2="584.5" stroke="#2a2a2a" stroke-width="1.15"/>
<use href="#st" x="630.1" y="580.25"/>
<use href="#st" x="634.1" y="580.25"/>
<use href="#st" x="638.1" y="580.25"/>
<line x1="632" y1="594.5" x2="663.9" y2="594.5" stroke="#2a2a2a" stroke-width="1.15"/>
<use href="#st" x="647" y="590"/>
<use href="#st" x="651" y="590"/>
<line x1="602.1" y1="605.1" x2="634.2" y2="605.1" stroke="#2a2a2a" stroke-width="1.15"/>
<use href="#st" x="616.9" y="601.05"/>
<use href="#st" x="620.9" y="601.05"/>
<text class="y" x="0" y="0" textLength="52.3" lengthAdjust="spacingAndGlyphs" transform="translate(534.7,676.4) rotate(-90)">Peak time(ms)</text>
<rect x="444" y="610.6" width="1" height="1" fill="#999"/>
<rect x="268.5" y="732.5" width="6" height="6" fill="#000" stroke="#000" stroke-width="0.8"/>
<text x="277.6" y="738.6" class="l" textLength="35.0" lengthAdjust="spacingAndGlyphs">Control</text>
<rect x="323.4" y="732.5" width="6" height="6" fill="#fff" stroke="#000" stroke-width="0.8"/>
<text x="332.3" y="738.6" class="l" textLength="20.9" lengthAdjust="spacingAndGlyphs">Mild</text>
<rect x="364.4" y="732.5" width="6" height="6" fill="#7f7f7f" stroke="#000" stroke-width="0.8"/>
<text x="374.0" y="738.6" class="l" textLength="46.4" lengthAdjust="spacingAndGlyphs">Moderate</text>
<rect x="431.4" y="732.5" width="6" height="6" fill="url(#h)" stroke="#000" stroke-width="0.8"/>
<text x="440.5" y="738.6" class="l" textLength="31.6" lengthAdjust="spacingAndGlyphs">Severe</text>
</svg>
</body></html>
